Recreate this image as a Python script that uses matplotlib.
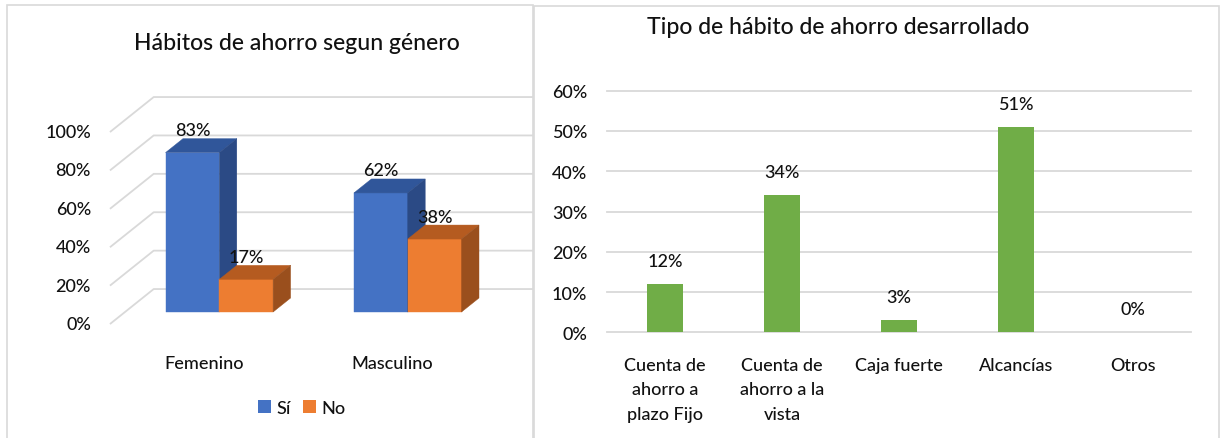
import matplotlib
matplotlib.use("Agg")
import matplotlib.pyplot as plt
from matplotlib.patches import Polygon, Rectangle, Patch

plt.rcParams["font.family"] = ["Lato", "DejaVu Sans"]
plt.rcParams["font.weight"] = "medium"

# ---- data -------------------------------------------------------------
generos = ["Femenino", "Masculino"]
respuestas = ["Sí", "No"]
si_pct = [83, 62]
no_pct = [17, 38]
left_ticks = [0, 20, 40, 60, 80, 100]

tipos = ["Cuenta de\nahorro a\nplazo Fijo", "Cuenta de\nahorro a la\nvista",
         "Caja fuerte", "Alcancías", "Otros"]
tipo_pct = [12, 34, 3, 51, 0]
right_ticks = [0, 10, 20, 30, 40, 50, 60]

# ---- style ------------------------------------------------------------
GRID = "#d9d9d9"
BLUE = ("#4472c4", "#30569a", "#2b4a85")     # front, top, side
ORANGE = ("#ed7d31", "#b55b20", "#9a4f1d")
GREEN = "#70ad47"
TXT = "#111111"
FS = 13
FS_TITLE = 16.6

W, H, DPI = 1225, 439, 100
fig = plt.figure(figsize=(W / DPI, H / DPI), dpi=DPI)


def px_rect(x0, y0, x1, y1):
    """pixel box (origin top-left) -> figure fraction [l, b, w, h]"""
    return [x0 / W, 1 - y1 / H, (x1 - x0) / W, (y1 - y0) / H]


# panel borders
for (x0, y0, x1, y1) in [(7, 6, 533, 460), (534, 7, 1219, 460)]:
    l, b, w, h = px_rect(x0, y0, x1, y1)
    fig.add_artist(Rectangle((l, b), w, h, transform=fig.transFigure,
                             fill=False, edgecolor=GRID, lw=1.2))

# ---- left: pseudo-3D clustered columns --------------------------------
X0, SX = 219.3, 188.4      # px of category 0, px per category
Y0, SY = 313.0, 1.92       # px of 0 %, px per %
DX, DY = 17.5 / SX, 14.0 / SY   # one bar depth
T_FRONT, T_BACK = -0.86, 1.64
U_LEFT = (125 - X0) / SX
BW = 53.8 / SX

ax = fig.add_axes(px_rect(7, 6, 533, 439))
ax.set_xlim((7 - X0) / SX, (533 - X0) / SX)
ax.set_ylim((Y0 - 439) / SY, (Y0 - 6) / SY)
ax.axis("off")

for v in left_ticks:
    xf, yf = U_LEFT + T_FRONT * DX, v + T_FRONT * DY
    xb, yb = U_LEFT + T_BACK * DX, v + T_BACK * DY
    ax.plot([xf, xb, 5], [yf, yb, yb], color=GRID, lw=1.3, zorder=1,
            solid_capstyle="butt")
    ax.text((91 - X0) / SX, yf, f"{v}%", ha="right", va="center",
            fontsize=FS, color=TXT)


def box(x0, h, cols):
    front = [(x0, 0), (x0 + BW, 0), (x0 + BW, h), (x0, h)]
    top = [(x0, h), (x0 + BW, h), (x0 + BW + DX, h + DY), (x0 + DX, h + DY)]
    side = [(x0 + BW, 0), (x0 + BW + DX, DY), (x0 + BW + DX, h + DY), (x0 + BW, h)]
    for pts, c in zip((front, top, side), cols):
        ax.add_patch(Polygon(pts, closed=True, facecolor=c, edgecolor=c,
                             lw=0.3, zorder=3))


for i, (s, n) in enumerate(zip(si_pct, no_pct)):
    box(i - BW, s, BLUE)
    box(i, n, ORANGE)

for i, (s, n) in enumerate(zip(si_pct, no_pct)):
    ax.text(i - BW / 2, s + 11.7, f"{s}%", ha="center", va="center",
            fontsize=FS, color=TXT, zorder=5)
    ax.text(i + BW / 2, n + 11.7, f"{n}%", ha="center", va="center",
            fontsize=FS, color=TXT, zorder=5)
    ax.text(i + T_FRONT * DX, (Y0 - 364) / SY, generos[i], ha="center",
            va="center", fontsize=FS, color=TXT)

handles = [Patch(facecolor=BLUE[0]), Patch(facecolor=ORANGE[0])]
ax.legend(handles, respuestas, loc="center",
          bbox_to_anchor=((302 - 7) / 526, 1 - (409 - 6) / 433),
          ncol=2, frameon=False, fontsize=FS, handlelength=0.7,
          handleheight=0.7, handletextpad=0.3, columnspacing=0.7,
          labelcolor=TXT)

fig.text(297 / W, 1 - 44 / H, "Hábitos de ahorro segun género",
         ha="center", va="center", fontsize=FS_TITLE, color=TXT)

# ---- right: flat columns ----------------------------------------------
ax2 = fig.add_axes(px_rect(606.7, 91.7, 1191, 333.3))
ax2.bar(range(len(tipos)), tipo_pct, width=0.305, color=GREEN, zorder=3)
ax2.set_xlim(-0.5, len(tipos) - 0.5)
ax2.set_ylim(0, 60)
for v in right_ticks:
    ax2.axhline(v, color=GRID, lw=1.3, zorder=1, clip_on=False)
ax2.set_yticks(right_ticks, [f"{v}%" for v in right_ticks])
ax2.set_xticks(range(len(tipos)), tipos)
ax2.tick_params(axis="y", length=0, pad=14, labelsize=FS, labelcolor=TXT)
ax2.tick_params(axis="x", length=0, pad=17.5, labelsize=FS, labelcolor=TXT)
for lab in ax2.get_xticklabels():
    lab.set_linespacing(1.68)
for sp in ax2.spines.values():
    sp.set_visible(False)
for i, v in enumerate(tipo_pct):
    ax2.text(i, v + 5.7, f"{v}%", ha="center", va="center", fontsize=FS,
             color=TXT)

fig.text(838 / W, 1 - 28 / H, "Tipo de hábito de ahorro desarrollado",
         ha="center", va="center", fontsize=FS_TITLE, color=TXT)

fig.savefig("out.png", dpi=DPI, facecolor="white")
